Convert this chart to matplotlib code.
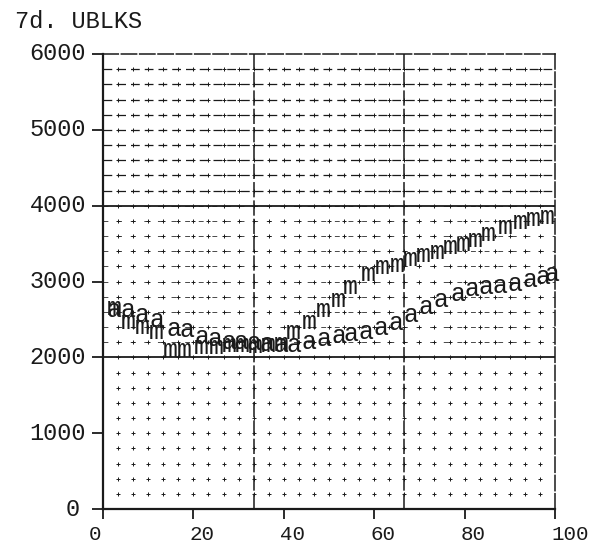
import numpy as np
import matplotlib
matplotlib.use("Agg")
from matplotlib import pyplot as plt
from matplotlib import transforms as mtransforms

# series
m_x = [2.4, 5.5, 8.6, 11.9, 15.0, 18.1, 21.8, 25.1, 28.0, 30.8, 33.7, 36.6, 39.4,
       42.1, 45.6, 48.7, 52.0, 54.8, 58.6, 61.9, 65.2, 68.1, 70.9, 74.0, 76.9,
       79.7, 82.4, 85.2, 89.0, 92.3, 95.2, 98.2]
m_y = [2620, 2440, 2375, 2310, 2075, 2075, 2115, 2115, 2140, 2140, 2125, 2140, 2155,
       2310, 2440, 2600, 2730, 2900, 3070, 3165, 3190, 3270, 3320, 3360, 3425,
       3465, 3520, 3600, 3690, 3755, 3795, 3820]

a_x = [2.4, 5.5, 8.6, 11.9, 15.6, 18.5, 21.8, 24.7, 27.8, 30.6, 33.5, 36.3, 39.4,
       42.3, 45.6, 48.9, 52.2, 54.8, 58.1, 61.5, 64.8, 68.1, 71.4, 74.7, 78.6,
       81.7, 84.8, 87.9, 91.2, 94.5, 97.4, 99.3]
a_y = [2600, 2600, 2535, 2470, 2350, 2335, 2245, 2220, 2180, 2180, 2165, 2155, 2140,
       2140, 2180, 2220, 2260, 2285, 2310, 2365, 2430, 2535, 2640, 2730, 2810,
       2875, 2900, 2915, 2940, 2995, 3030, 3070]

x_ticks = [0, 20, 40, 60, 80, 100]
y_ticks = [0, 1000, 2000, 3000, 4000, 5000, 6000]
title = "7d. UBLKS"

fig = plt.figure(figsize=(6.09, 5.46), dpi=100)
ax = fig.add_axes([103 / 609, 37 / 546, 452 / 609, 455 / 546])
ax.set_xlim(0, 100)
ax.set_ylim(0, 6000)

ink = "#1a1a1a"
mono = "Liberation Mono"

# typewriter dot grid
gx = np.linspace(0, 100, 31)[1:-1]
gy = np.linspace(0, 6000, 31)[1:-1]
GX, GY = np.meshgrid(gx, gy)
ax.scatter(GX.ravel(), GY.ravel(), marker="+", s=8, linewidths=0.7, color=ink, zorder=1)

# dashed rows in the upper bands
for yv in gy:
    if yv > 4000:
        ax.axhline(yv, color=ink, lw=0.9, ls=(0, (7, 4)), zorder=1)
    elif yv > 2000:
        ax.axhline(yv, color=ink, lw=0.7, ls=(0, (5, 9)), alpha=0.8, zorder=1)

# heavier division lines
for yv in [2000, 4000]:
    ax.axhline(yv, color=ink, lw=1.3, zorder=1)
for xv in [100 / 3, 200 / 3]:
    ax.axvline(xv, color=ink, lw=1.1, ls=(0, (10, 2)), zorder=1)

for side in ["top", "right"]:
    ax.spines[side].set_linestyle((0, (10, 2)))
    ax.spines[side].set_linewidth(1.1)
    ax.spines[side].set_color(ink)
for side in ["left", "bottom"]:
    ax.spines[side].set_linewidth(1.6)
    ax.spines[side].set_color(ink)

# letters as plot symbols
off = mtransforms.offset_copy(ax.transData, fig=fig, y=-5, units="dots")
for x, y in zip(m_x, m_y):
    ax.text(x, y, "m", transform=off, family=mono, fontsize=18,
            ha="center", va="baseline", color=ink, zorder=3)
for x, y in zip(a_x, a_y):
    ax.text(x, y, "a", transform=off, family=mono, fontsize=18,
            ha="center", va="baseline", color=ink, zorder=3)

ax.set_xticks(x_ticks)
ax.set_yticks(y_ticks)
ax.set_xticklabels([])
ax.set_yticklabels([])
ax.tick_params(axis="x", direction="out", length=7, width=1.3, colors=ink)
ax.tick_params(axis="y", direction="out", length=8, width=1.3, colors=ink)

# typed tick labels, placed like the original
xlab_tr = mtransforms.offset_copy(ax.get_xaxis_transform(), fig=fig, x=-4, y=-16, units="dots")
for v in x_ticks:
    ax.text(v, 0, str(v), transform=xlab_tr, family=mono, fontsize=15,
            ha="right" if v == 0 else "left", va="top", color=ink,
            clip_on=False)
    if v == 0:
        ax.texts[-1].set_x(0.6)

ylab_tr = mtransforms.offset_copy(ax.get_yaxis_transform(), fig=fig, x=-17, y=0, units="dots")
for v in y_ticks:
    ax.text(0, v, str(v), transform=ylab_tr, family=mono, fontsize=17,
            ha="right", va="center", color=ink, clip_on=False)
    if v == 0:
        ax.texts[-1].set_x(-0.05 * 0)  # keep on the tick row
        ax.texts[-1].set_transform(mtransforms.offset_copy(
            ax.get_yaxis_transform(), fig=fig, x=-23, y=0, units="dots"))

fig.text(15 / 609, 1 - 22 / 546, title, family=mono, fontsize=17,
         ha="left", va="center", color=ink)

fig.savefig("out.png", dpi=100)
